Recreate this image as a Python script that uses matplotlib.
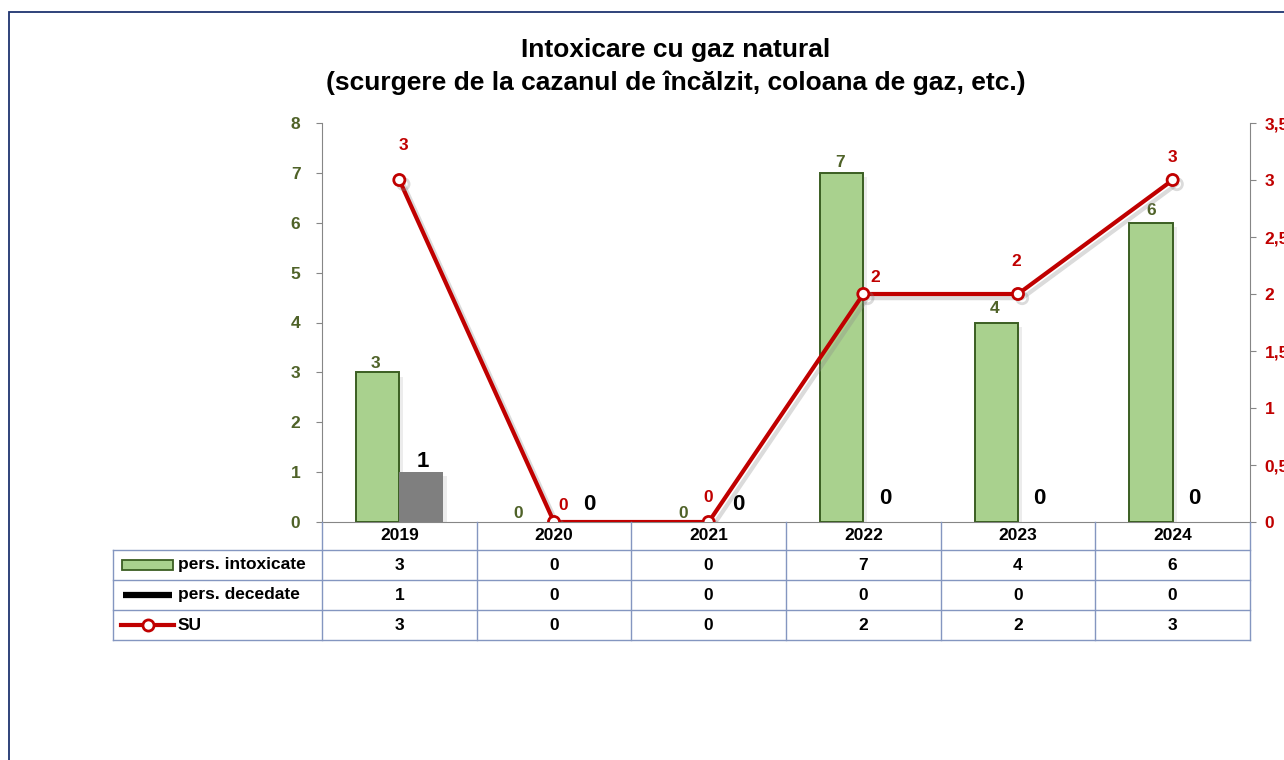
import numpy as np
import matplotlib
matplotlib.use("Agg")
import matplotlib.pyplot as plt
import matplotlib.patheffects as pe
from matplotlib.transforms import blended_transform_factory
from matplotlib.lines import Line2D
from matplotlib.patches import Rectangle

plt.rcParams['font.family'] = ['Liberation Sans', 'DejaVu Sans']
plt.rcParams['font.weight'] = 'bold'

# data
years = ['2019', '2020', '2021', '2022', '2023', '2024']
intoxicate = [3, 0, 0, 7, 4, 6]
decedate = [1, 0, 0, 0, 0, 0]
su = [3, 0, 0, 2, 2, 3]
series_names = ['pers. intoxicate', 'pers. decedate', 'SU']

# label offsets in pixels (dx, dy) as placed in the original
green_off = [(-2, 9), (-14, 9), (-4, 8), (-2, 10), (-2, 14), (0, 12)]
gray_off = [(2, 11), (14, 17), (8, 17), (0, 24), (0, 24), (0, 24)]
red_off = [(4, 34), (9, 17), (0, 24), (12, 17), (-2, 32), (0, 23)]

W, H = 1284, 760
GREEN = '#a9d18e'
GREEN_EDGE = '#3b5e22'
GREEN_TXT = '#4f6228'
RED = '#c00000'
GRID = '#8496c0'
FS = 12.5

def fx(x):
    return x / W

def fy(y):
    return 1 - y / H

fig = plt.figure(figsize=(W / 100, H / 100), dpi=100)
fig.patches.append(Rectangle((fx(9), -0.1), 2, fy(12) + 0.1, transform=fig.transFigure,
                             fill=False, edgecolor='#1f3470', lw=1.3))

ax = fig.add_axes([fx(322), fy(522), fx(1250) - fx(322), fy(123) - fy(522)])
ax2 = ax.twinx()

x = np.arange(len(years))
bw = 0.28
shadow = [pe.SimplePatchShadow(offset=(3, -3), shadow_rgbFace='#aaaaaa', alpha=0.22), pe.Normal()]
b1 = ax.bar(x - bw / 2, intoxicate, bw, color=GREEN, edgecolor=GREEN_EDGE, lw=1.4, zorder=3)
b2 = ax.bar(x + bw / 2, decedate, bw, color='#7f7f7f', edgecolor='none', zorder=3)
for b in list(b1) + list(b2):
    if b.get_height() > 0:
        b.set_path_effects(shadow)
    else:
        b.set_visible(False)

ax2.plot(x, su, color=RED, lw=3, marker='o', markersize=8, markerfacecolor='white',
         markeredgecolor=RED, markeredgewidth=2, zorder=5,
         path_effects=[pe.SimpleLineShadow(offset=(3, -3), shadow_color='#888888', alpha=0.3),
                       pe.Normal()])

for i in range(len(years)):
    ax.annotate(str(intoxicate[i]), (x[i] - bw / 2, intoxicate[i]),
                xytext=(green_off[i][0] * 0.72, green_off[i][1] * 0.72), textcoords='offset points',
                ha='center', va='center', color=GREEN_TXT, fontsize=FS, fontweight='bold')
    ax.annotate(str(decedate[i]), (x[i] + bw / 2, decedate[i]),
                xytext=(gray_off[i][0] * 0.72, gray_off[i][1] * 0.72), textcoords='offset points',
                ha='center', va='center', color='black', fontsize=16, fontweight='bold')
    ax2.annotate(str(su[i]), (x[i], su[i]),
                 xytext=(red_off[i][0] * 0.72, red_off[i][1] * 0.72), textcoords='offset points',
                 ha='center', va='center', color=RED, fontsize=FS, fontweight='bold')

ax.set_xlim(-0.5, len(years) - 0.5)
ax.set_ylim(0, 8)
ax2.set_ylim(0, 3.5)
ax.set_yticks(range(0, 9))
ax2.set_yticks(np.arange(0, 3.51, 0.5))
ax2.set_yticklabels(['0', '0,5', '1', '1,5', '2', '2,5', '3', '3,5'])
ax.set_xticks([])

for a in (ax, ax2):
    for s in a.spines.values():
        s.set_visible(False)
ax.spines['left'].set_visible(True)
ax.spines['left'].set_color('#868686')
ax2.spines['right'].set_visible(True)
ax2.spines['right'].set_color('#868686')
ax.spines['bottom'].set_visible(True)
ax.spines['bottom'].set_color('#868686')
ax.spines['bottom'].set_zorder(1)

ax.tick_params(axis='y', colors='#868686', length=4.5, pad=11)
ax2.tick_params(axis='y', colors='#868686', length=4.5, pad=6)
for t in ax.get_yticklabels():
    t.set_color(GREEN_TXT)
    t.set_fontsize(FS)
    t.set_fontweight('bold')
for t in ax2.get_yticklabels():
    t.set_color(RED)
    t.set_fontsize(FS)
    t.set_fontweight('bold')
    t.set_ha('left')

fig.text(fx(676), fy(50), 'Intoxicare cu gaz natural', ha='center', va='center',
         fontsize=19, fontweight='bold')
fig.text(fx(676), fy(83), '(scurgere de la cazanul de încălzit, coloana de gaz, etc.)',
         ha='center', va='center', fontsize=19, fontweight='bold')

# data table under the axis
tr = blended_transform_factory(ax.transData, fig.transFigure)
rows_y = [550, 580, 610, 640]
for yy in rows_y:
    fig.add_artist(Line2D([fx(113), fx(1250)], [fy(yy), fy(yy)], color=GRID, lw=1))
fig.add_artist(Line2D([fx(113), fx(113)], [fy(550), fy(640)], color=GRID, lw=1))
for e in np.arange(-0.5, len(years), 1.0):
    fig.add_artist(Line2D([e, e], [fy(522), fy(640)], color=GRID, lw=1, transform=tr))

table_rows = [intoxicate, decedate, su]
for i, yr in enumerate(years):
    fig.text(x[i], fy(536), yr, transform=tr, ha='center', va='center', fontsize=FS, fontweight='bold')
    for r, vals in enumerate(table_rows):
        fig.text(x[i], fy((rows_y[r] + rows_y[r + 1]) / 2), str(vals[i]),
                 transform=tr, ha='center', va='center', fontsize=FS, fontweight='bold')

for r, name in enumerate(series_names):
    yc = fy((rows_y[r] + rows_y[r + 1]) / 2)
    fig.text(fx(178), yc, name, ha='left', va='center', fontsize=FS, fontweight='bold')
fig.patches.append(Rectangle((fx(122), fy(570)), fx(173) - fx(122), fy(560) - fy(570),
                             transform=fig.transFigure, facecolor=GREEN, edgecolor=GREEN_EDGE, lw=1.3))
fig.add_artist(Line2D([fx(123), fx(172)], [fy(595), fy(595)], color='black', lw=4.5,
                      solid_capstyle='butt'))
fig.add_artist(Line2D([fx(121), fx(174)], [fy(625), fy(625)], color=RED, lw=3))
fig.add_artist(Line2D([fx(148)], [fy(625)], color=RED, marker='o', markersize=8,
                      markerfacecolor='white', markeredgewidth=2))

plt.savefig('out.png', dpi=100)
